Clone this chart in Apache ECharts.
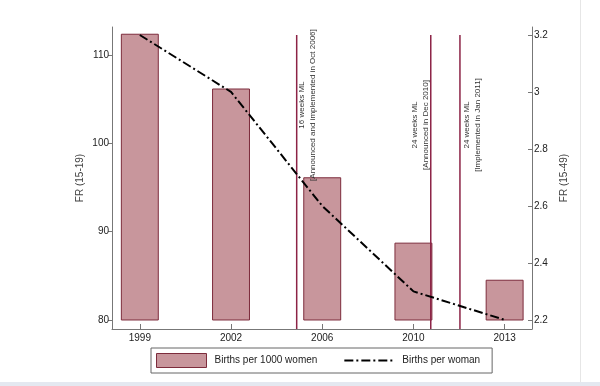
<!DOCTYPE html>
<html>
<head>
<meta charset="utf-8">
<script src="https://cdn.jsdelivr.net/npm/echarts@6/dist/echarts.min.js"></script>
<style>
html,body{margin:0;padding:0;background:#fff;}
#c{width:600px;height:386px;}
</style>
</head>
<body>
<div id="c"></div>
<script>
// ---- data ----
var years = ['1999', '2002', '2006', '2010', '2013'];
var birthsPer1000 = [112.35, 106.15, 96.1, 88.7, 84.5];
var birthsPerWoman = [3.2, 3.0, 2.6, 2.3, 2.2];
var barBase = 80;
var leftTicks = [80, 90, 100, 110];
var rightTicks = [2.2, 2.4, 2.6, 2.8, 3.0, 3.2];
var policyPos = [2.72, 4.19, 4.51];
var policyTop = 3.2;
var noteX = [2.835, 4.077, 4.645];
var noteY = [2.954, 2.884, 2.884];
var noteLine1 = ['16 weeks ML', '24 weeks ML', '24 weeks ML'];
var noteLine2 = ['[Announced and implemented in Oct 2006]', '[Announced in Dec 2010]', '[Implemented in Jan 2011]'];

var FONT = 'Liberation Sans, Arial, sans-serif';
var barFill = '#c8969c';
var barEdge = '#7d2c3c';
var vlineColor = '#8c2346';

var chart = echarts.init(document.getElementById('c'), null, {renderer: 'canvas'});

var xMin = 0.695, xMax = 5.3;
var yLmin = 78.98, yLmax = 113.17;
var yRmin = 2.168, yRmax = 3.228;

var option = {
  animation: false,
  backgroundColor: '#fff',
  textStyle: {fontFamily: FONT},
  grid: {left: 112, right: 68, top: 27, bottom: 57, containLabel: false},
  legend: {
    left: 151, top: 348,
    orient: 'horizontal',
    padding: [5, 12, 5, 5],
    itemGap: 26,
    itemWidth: 50, itemHeight: 14,
    borderColor: '#666', borderWidth: 1,
    textStyle: {fontSize: 10, color: '#222', fontFamily: FONT, padding: [0, 0, 0, 3]},
    data: [
      {name: 'Births per 1000 women', icon: 'rect', itemStyle: {color: barFill, borderColor: barEdge, borderWidth: 1}},
      {name: 'Births per woman', itemStyle: {color: 'rgba(0,0,0,0)', borderWidth: 0, opacity: 0}}
    ]
  },
  xAxis: {
    type: 'value', min: xMin, max: xMax,
    splitLine: {show: false},
    axisLine: {show: true, lineStyle: {color: '#777', width: 1}},
    axisTick: {show: true, inside: true, length: 5, customValues: [1, 2, 3, 4, 5], lineStyle: {color: '#777'}},
    axisLabel: {
      customValues: [1, 2, 3, 4, 5],
      margin: 4, fontSize: 10, color: '#222', fontFamily: FONT,
      formatter: function (v) { return years[Math.round(v) - 1]; }
    }
  },
  yAxis: [
    {
      type: 'value', min: yLmin, max: yLmax, position: 'left',
      name: 'FR (15-19)', nameLocation: 'middle', nameGap: 27, nameMoveOverlap: false,
      nameTextStyle: {fontSize: 10, color: '#444', fontFamily: FONT},
      splitLine: {show: false},
      axisLine: {show: true, lineStyle: {color: '#777', width: 1}},
      axisTick: {show: true, inside: false, length: 4, customValues: leftTicks, lineStyle: {color: '#777'}},
      axisLabel: {customValues: leftTicks, margin: 3, fontSize: 10, color: '#222', fontFamily: FONT}
    },
    {
      type: 'value', min: yRmin, max: yRmax, position: 'right',
      name: 'FR (15-49)', nameLocation: 'middle', nameGap: 25, nameRotate: 90,
      nameTextStyle: {fontSize: 10, color: '#444', fontFamily: FONT},
      splitLine: {show: false},
      axisLine: {show: true, lineStyle: {color: '#777', width: 1}},
      axisTick: {show: true, inside: true, length: 4, customValues: rightTicks, lineStyle: {color: '#777'}},
      axisLabel: {customValues: rightTicks, margin: 2, fontSize: 10, color: '#222', fontFamily: FONT,
        formatter: function (v) { return String(Math.round(v * 10) / 10); }}
    }
  ],
  series: [
    {
      name: 'Births per 1000 women',
      type: 'custom',
      xAxisIndex: 0, yAxisIndex: 0,
      z: 2,
      itemStyle: {color: barFill, borderColor: barEdge},
      data: birthsPer1000.map(function (v, i) { return [i + 1, v]; }),
      renderItem: function (params, api) {
        var x = api.value(0), v = api.value(1);
        var pTop = api.coord([x, v]);
        var pBot = api.coord([x, barBase]);
        var w = api.size([0.405, 0])[0];
        return {
          type: 'rect',
          shape: {x: pTop[0] - w / 2, y: pTop[1], width: w, height: pBot[1] - pTop[1]},
          style: {fill: barFill, stroke: barEdge, lineWidth: 1}
        };
      }
    },
    {
      name: 'Births per woman',
      type: 'line',
      xAxisIndex: 0, yAxisIndex: 1,
      z: 4,
      symbol: 'none',
      lineStyle: {color: '#000', width: 2, type: [9, 3, 2, 3]},
      itemStyle: {color: '#000'},
      data: birthsPerWoman.map(function (v, i) { return [i + 1, v]; })
    },
    {
      name: 'policy lines',
      type: 'custom',
      xAxisIndex: 0, yAxisIndex: 1,
      z: 3,
      silent: true,
      data: policyPos.map(function (p) { return [p, policyTop]; }),
      renderItem: function (params, api) {
        var x = api.value(0);
        var pTop = api.coord([x, api.value(1)]);
        var pBot = api.coord([x, yRmin]);
        return {
          type: 'line',
          shape: {x1: pTop[0], y1: pTop[1], x2: pBot[0], y2: pBot[1]},
          style: {stroke: vlineColor, lineWidth: 1.5}
        };
      }
    },
    {
      name: 'policy notes',
      type: 'custom',
      xAxisIndex: 0, yAxisIndex: 1,
      z: 5,
      silent: true,
      data: noteX.map(function (x, i) { return [x, noteY[i], i]; }),
      renderItem: function (params, api) {
        var i = api.value(2);
        var p = api.coord([api.value(0), api.value(1)]);
        return {
          type: 'text',
          x: p[0], y: p[1],
          rotation: Math.PI / 2,
          style: {
            text: noteLine1[i] + '\n' + noteLine2[i],
            align: 'center', verticalAlign: 'middle',
            font: '8px ' + FONT,
            lineHeight: 11,
            fill: '#333'
          }
        };
      }
    }
  ],
  graphic: [
    {type: 'rect', left: 580, top: 0, shape: {width: 1, height: 382}, style: {fill: '#e6e6e6'}, silent: true},
    {type: 'rect', left: 0, top: 382, shape: {width: 600, height: 4}, style: {fill: '#e4e8f0'}, silent: true}
  ]
};

chart.setOption(option);
</script>
</body>
</html>
